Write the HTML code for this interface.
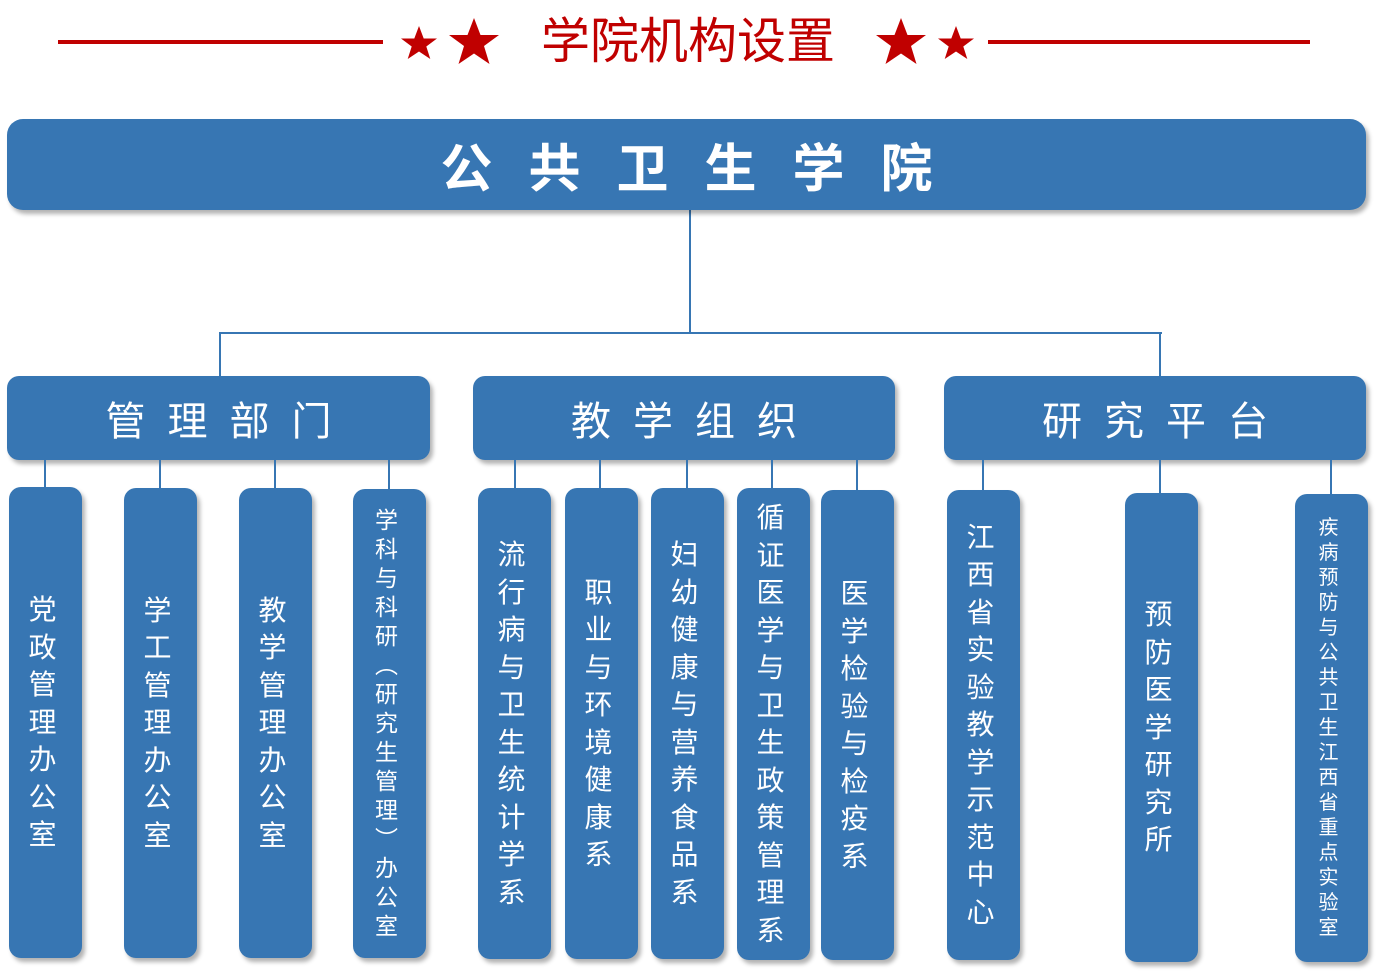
<!DOCTYPE html>
<html><head><meta charset="utf-8"><style>
*{margin:0;padding:0;box-sizing:border-box}
body{width:1376px;height:980px;background:#fff;position:relative;overflow:hidden;font-family:"Liberation Sans","Noto Sans CJK SC",sans-serif}
.b{position:absolute;background:#3776b3;border-radius:12px;box-shadow:3px 4px 4px rgba(0,0,0,.3);color:#fff;display:flex;align-items:center;justify-content:center}
.l{position:absolute;background:#3776b3}
.v{width:1em;text-align:center;word-break:break-all;margin-right:6px}
.v4{width:1em;margin-right:6px}
.v4 span{display:block;height:29px;line-height:29px;text-align:center}
.h{position:absolute;background:#c00000;height:4px;top:40px}
</style></head><body>
<div class="h" style="left:58px;width:325px"></div>
<div class="h" style="left:988px;width:322px"></div>
<svg style="position:absolute;left:395px;top:14px" width="110" height="56" viewBox="0 0 110 56">
<polygon fill="#c00000" points="24,12 28.7,24.5 42,24.5 31.3,32.5 35.3,45 24,37.5 12.7,45 16.7,32.5 6,24.5 19.3,24.5"/>
<polygon fill="#c00000" points="79,4 85.5,21 104,21 89,32 94.5,50 79,39.5 63.5,50 69,32 54,21 72.5,21"/>
</svg>
<svg style="position:absolute;left:870px;top:14px" width="110" height="56" viewBox="0 0 110 56">
<polygon fill="#c00000" points="31,4 37.5,21 56,21 41,32 46.5,50 31,39.5 15.5,50 21,32 6,21 24.5,21"/>
<polygon fill="#c00000" points="86,12 90.7,24.5 104,24.5 93.3,32.5 97.3,45 86,37.5 74.7,45 78.7,32.5 68,24.5 81.3,24.5"/>
</svg>
<div style="position:absolute;left:520px;top:14px;width:336px;text-align:center;color:#c00000;font-size:49px;line-height:56px">学院机构设置</div>

<div class="l" style="left:689px;top:210px;width:2px;height:124px"></div>
<div class="l" style="left:219px;top:332px;width:943px;height:2px"></div>
<div class="l" style="left:219px;top:332px;width:2px;height:46px"></div>
<div class="l" style="left:1159px;top:332px;width:2px;height:46px"></div>

<div class="b" style="left:7px;top:119px;width:1359px;height:91px;border-radius:16px;font-size:52px;font-weight:bold;letter-spacing:36px;padding-left:36px">公共卫生学院</div>

<div class="b" style="left:7px;top:376px;width:423px;height:84px;font-size:40px;letter-spacing:22px;padding-left:22px">管理部门</div>
<div class="b" style="left:473px;top:376px;width:422px;height:84px;font-size:40px;letter-spacing:22px;padding-left:22px">教学组织</div>
<div class="b" style="left:944px;top:376px;width:422px;height:84px;font-size:40px;letter-spacing:22px;padding-left:22px">研究平台</div>

<div class="l" style="left:44px;top:460px;width:2px;height:28px"></div>
<div class="l" style="left:159px;top:460px;width:2px;height:28px"></div>
<div class="l" style="left:274px;top:460px;width:2px;height:28px"></div>
<div class="l" style="left:388px;top:460px;width:2px;height:30px"></div>
<div class="l" style="left:514px;top:460px;width:2px;height:28px"></div>
<div class="l" style="left:599px;top:460px;width:2px;height:28px"></div>
<div class="l" style="left:686px;top:460px;width:2px;height:28px"></div>
<div class="l" style="left:771px;top:460px;width:2px;height:28px"></div>
<div class="l" style="left:856px;top:460px;width:2px;height:30px"></div>
<div class="l" style="left:982px;top:460px;width:2px;height:30px"></div>
<div class="l" style="left:1159px;top:460px;width:2px;height:34px"></div>
<div class="l" style="left:1330px;top:460px;width:2px;height:34px"></div>

<div class="b" style="left:9px;top:487px;width:73px;height:471px;font-size:28px;line-height:37.5px"><div class="v">党政管理办公室</div></div>
<div class="b" style="left:124px;top:488px;width:73px;height:470px;font-size:28px;line-height:37.5px"><div class="v">学工管理办公室</div></div>
<div class="b" style="left:239px;top:488px;width:73px;height:470px;font-size:28px;line-height:37.5px"><div class="v">教学管理办公室</div></div>
<div class="b" style="left:353px;top:489px;width:73px;height:469px;font-size:23px"><div class="v4"><span>学</span><span>科</span><span>与</span><span>科</span><span>研</span><span>︵</span><span>研</span><span>究</span><span>生</span><span>管</span><span>理</span><span>︶</span><span>办</span><span>公</span><span>室</span></div></div>
<div class="b" style="left:478px;top:488px;width:73px;height:471px;font-size:28px;line-height:37.5px"><div class="v">流行病与卫生统计学系</div></div>
<div class="b" style="left:565px;top:488px;width:73px;height:471px;font-size:28px;line-height:37.5px"><div class="v">职业与环境健康系</div></div>
<div class="b" style="left:651px;top:488px;width:73px;height:471px;font-size:28px;line-height:37.5px"><div class="v">妇幼健康与营养食品系</div></div>
<div class="b" style="left:737px;top:488px;width:73px;height:472px;font-size:28px;line-height:37.5px"><div class="v">循证医学与卫生政策管理系</div></div>
<div class="b" style="left:821px;top:490px;width:73px;height:470px;font-size:28px;line-height:37.5px"><div class="v">医学检验与检疫系</div></div>
<div class="b" style="left:947px;top:490px;width:73px;height:470px;font-size:28px;line-height:37.5px"><div class="v">江西省实验教学示范中心</div></div>
<div class="b" style="left:1125px;top:493px;width:73px;height:469px;font-size:28px;line-height:37.5px"><div class="v">预防医学研究所</div></div>
<div class="b" style="left:1295px;top:494px;width:73px;height:468px;font-size:20px;line-height:25px"><div class="v">疾病预防与公共卫生江西省重点实验室</div></div>
</body></html>
